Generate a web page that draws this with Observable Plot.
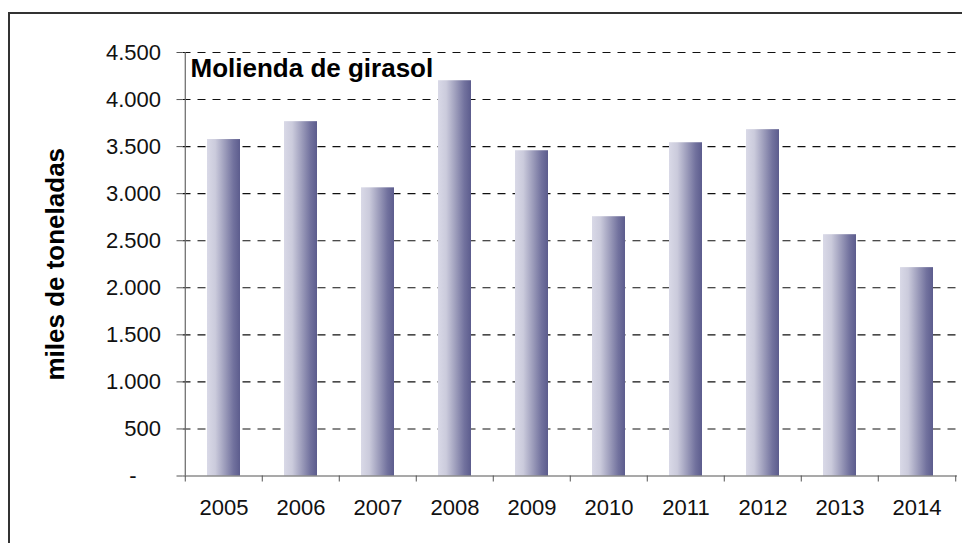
<!DOCTYPE html>
<html>
<head>
<meta charset="utf-8">
<script src="https://cdn.jsdelivr.net/npm/d3@7"></script>
<script src="https://cdn.jsdelivr.net/npm/@observablehq/plot@0.6"></script>
<style>
  html, body { margin: 0; padding: 0; background: #fff; overflow: hidden; }
  #wrap { position: relative; width: 962px; height: 543px; overflow: hidden; }
  #border { position: absolute; left: 8px; top: 12px; width: 1000px; height: 600px; border: 2px solid #333; box-sizing: border-box; pointer-events: none; }
  #chart { position: absolute; left: 0; top: 0; }
</style>
</head>
<body>
<div id="wrap"><div id="chart"></div><div id="border"></div></div>
<script>
const years = ["2005","2006","2007","2008","2009","2010","2011","2012","2013","2014"];
const values = [3575, 3765, 3062, 4200, 3456, 2755, 3541, 3680, 2564, 2214];
const yTicks = [0, 500, 1000, 1500, 2000, 2500, 3000, 3500, 4000, 4500];
const title = "Molienda de girasol";
const yLabel = "miles de toneladas";

const data = years.map((year, i) => ({year, value: values[i]}));

const W = 962, H = 543;
const mL = 182.5, mR = 5, mT = 52, mB = 67.5;
const step = (W - mL - mR) / years.length;
const pad = 0.574;

const es = d3.formatLocale({decimal: ",", thousands: ".", grouping: [3]}).format(",");
const fmtY = d => d === 0 ? "-\u00a0\u00a0\u00a0\u00a0" : es(d);

const plot = Plot.plot({
  width: W, height: H,
  marginLeft: mL, marginRight: mR, marginTop: mT, marginBottom: mB,
  style: {fontFamily: "Liberation Sans, Arial, sans-serif", background: "white"},
  x: {domain: years, paddingInner: pad, paddingOuter: pad / 2, align: 0.5, axis: null},
  y: {domain: [0, 4500], axis: null},
  marks: [
    Plot.ruleY(yTicks.filter(d => d > 0), {stroke: "#111", strokeWidth: 1.1, strokeDasharray: "8,7"}),
    Plot.barY(data, {x: "year", y: "value", fill: "url(#barGrad)"}),
    Plot.ruleY([0], {stroke: "#555", strokeWidth: 1.2}),
    Plot.ruleX([years[0]], {dx: -step / 2, stroke: "#666", strokeWidth: 1.2}),
    Plot.axisY({ticks: yTicks, tickFormat: fmtY, tickSize: 6, tickPadding: 16, fontSize: 22, fill: "#111", stroke: "#555", label: null}),
    Plot.axisX({tickSize: 6, tickFormat: () => "", dx: -step / 2, stroke: "#555", label: null}),
    Plot.axisX({ticks: [years[years.length - 1]], tickSize: 6, tickFormat: () => "", dx: step / 2, stroke: "#555", label: null}),
    Plot.axisX({tickSize: 0, tickPadding: 23, fontSize: 22, fill: "#111", label: null}),
    Plot.text([title], {frameAnchor: "top-left", dx: 7.5, dy: 6, lineAnchor: "top", textAnchor: "start", fontSize: 26, fontWeight: "bold", fill: "#000"}),
    Plot.text([yLabel], {frameAnchor: "left", rotate: -90, dx: -127.5, textAnchor: "middle", fontSize: 26, fontWeight: "bold", fill: "#000"})
  ]
});

const svg = d3.select(plot);
const defs = svg.insert("defs", ":first-child");
const g = defs.append("linearGradient").attr("id", "barGrad").attr("x1", "0").attr("x2", "1").attr("y1", "0").attr("y2", "0");
[["0%", "#d9d9e7"], ["25%", "#cbcbdc"], ["55%", "#9b9bba"], ["80%", "#72729e"], ["100%", "#5c5c8d"]]
  .forEach(([o, c]) => g.append("stop").attr("offset", o).attr("stop-color", c));

document.getElementById("chart").appendChild(plot);
</script>
</body>
</html>
